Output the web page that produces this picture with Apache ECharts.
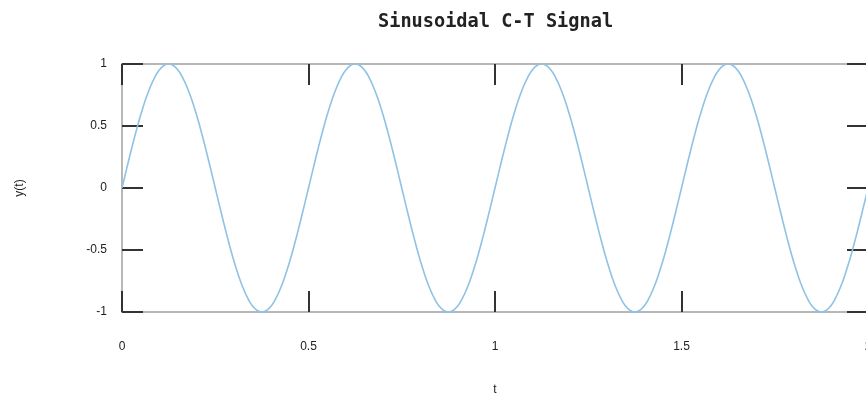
<!DOCTYPE html>
<html>
<head>
<meta charset="utf-8">
<script src="https://cdn.jsdelivr.net/npm/echarts@6/dist/echarts.min.js"></script>
<style>html,body{margin:0;padding:0;background:#fff;}#c{width:866px;height:397px;}</style>
</head>
<body>
<div id="c"></div>
<script>
var titleText = 'Sinusoidal C-T Signal';
var xName = 't';
var yName = 'y(t)';
var tValues = [
  0, 0.0125, 0.025, 0.0375, 0.05, 0.0625, 0.075, 0.0875,
  0.1, 0.1125, 0.125, 0.1375, 0.15, 0.1625, 0.175, 0.1875,
  0.2, 0.2125, 0.225, 0.2375, 0.25, 0.2625, 0.275, 0.2875,
  0.3, 0.3125, 0.325, 0.3375, 0.35, 0.3625, 0.375, 0.3875,
  0.4, 0.4125, 0.425, 0.4375, 0.45, 0.4625, 0.475, 0.4875,
  0.5, 0.5125, 0.525, 0.5375, 0.55, 0.5625, 0.575, 0.5875,
  0.6, 0.6125, 0.625, 0.6375, 0.65, 0.6625, 0.675, 0.6875,
  0.7, 0.7125, 0.725, 0.7375, 0.75, 0.7625, 0.775, 0.7875,
  0.8, 0.8125, 0.825, 0.8375, 0.85, 0.8625, 0.875, 0.8875,
  0.9, 0.9125, 0.925, 0.9375, 0.95, 0.9625, 0.975, 0.9875,
  1, 1.0125, 1.025, 1.0375, 1.05, 1.0625, 1.075, 1.0875,
  1.1, 1.1125, 1.125, 1.1375, 1.15, 1.1625, 1.175, 1.1875,
  1.2, 1.2125, 1.225, 1.2375, 1.25, 1.2625, 1.275, 1.2875,
  1.3, 1.3125, 1.325, 1.3375, 1.35, 1.3625, 1.375, 1.3875,
  1.4, 1.4125, 1.425, 1.4375, 1.45, 1.4625, 1.475, 1.4875,
  1.5, 1.5125, 1.525, 1.5375, 1.55, 1.5625, 1.575, 1.5875,
  1.6, 1.6125, 1.625, 1.6375, 1.65, 1.6625, 1.675, 1.6875,
  1.7, 1.7125, 1.725, 1.7375, 1.75, 1.7625, 1.775, 1.7875,
  1.8, 1.8125, 1.825, 1.8375, 1.85, 1.8625, 1.875, 1.8875,
  1.9, 1.9125, 1.925, 1.9375, 1.95, 1.9625, 1.975, 1.9875,
  2
];
var yValues = [
  0, 0.156, 0.309, 0.454, 0.588, 0.707, 0.809, 0.891, 0.951, 0.988,
  1, 0.988, 0.951, 0.891, 0.809, 0.707, 0.588, 0.454, 0.309, 0.156,
  0, -0.156, -0.309, -0.454, -0.588, -0.707, -0.809, -0.891, -0.951, -0.988,
  -1, -0.988, -0.951, -0.891, -0.809, -0.707, -0.588, -0.454, -0.309, -0.156,
  0, 0.156, 0.309, 0.454, 0.588, 0.707, 0.809, 0.891, 0.951, 0.988,
  1, 0.988, 0.951, 0.891, 0.809, 0.707, 0.588, 0.454, 0.309, 0.156,
  0, -0.156, -0.309, -0.454, -0.588, -0.707, -0.809, -0.891, -0.951, -0.988,
  -1, -0.988, -0.951, -0.891, -0.809, -0.707, -0.588, -0.454, -0.309, -0.156,
  0, 0.156, 0.309, 0.454, 0.588, 0.707, 0.809, 0.891, 0.951, 0.988,
  1, 0.988, 0.951, 0.891, 0.809, 0.707, 0.588, 0.454, 0.309, 0.156,
  0, -0.156, -0.309, -0.454, -0.588, -0.707, -0.809, -0.891, -0.951, -0.988,
  -1, -0.988, -0.951, -0.891, -0.809, -0.707, -0.588, -0.454, -0.309, -0.156,
  0, 0.156, 0.309, 0.454, 0.588, 0.707, 0.809, 0.891, 0.951, 0.988,
  1, 0.988, 0.951, 0.891, 0.809, 0.707, 0.588, 0.454, 0.309, 0.156,
  0, -0.156, -0.309, -0.454, -0.588, -0.707, -0.809, -0.891, -0.951, -0.988,
  -1, -0.988, -0.951, -0.891, -0.809, -0.707, -0.588, -0.454, -0.309, -0.156,
  0
];
var xTickLabels = ['0', '0.5', '1', '1.5', '2'];
var yTickLabels = ['-1', '-0.5', '0', '0.5', '1'];

var pts = tValues.map(function (t, i) { return [t, yValues[i]]; });

var axisLine = { show: true, onZero: false, lineStyle: { color: '#a0a0a0', width: 1.5 } };
var axisTick = { show: true, inside: true, length: 21, lineStyle: { color: '#333', width: 2 } };
var labelStyle = { color: '#222', fontSize: 12, fontFamily: 'Liberation Sans, Arial, sans-serif' };

function xLabel(v) {
  var idx = Math.round(v / 0.5);
  return xTickLabels[idx] !== undefined ? xTickLabels[idx] : '';
}
function yLabel(v) {
  var idx = Math.round((v + 1) / 0.5);
  return yTickLabels[idx] !== undefined ? yTickLabels[idx] : '';
}

var chart = echarts.init(document.getElementById('c'), null, { renderer: 'canvas' });
chart.setOption({
  animation: false,
  backgroundColor: '#fff',
  title: {
    text: titleText,
    left: 373,
    top: 8,
    textStyle: { fontFamily: 'DejaVu Sans Mono', fontWeight: 'bold', fontSize: 18.6, color: '#222' }
  },
  grid: { left: 122, top: 64, right: -2, bottom: 85, containLabel: false, outerBoundsMode: 'none' },
  xAxis: [
    {
      type: 'value', min: 0, max: 2, interval: 0.5, position: 'bottom',
      name: xName, nameLocation: 'middle', nameGap: 72,
      nameTextStyle: labelStyle,
      axisLine: axisLine, axisTick: axisTick,
      axisLabel: Object.assign({ margin: 29, formatter: xLabel }, labelStyle),
      splitLine: { show: false }
    },
    {
      type: 'value', min: 0, max: 2, interval: 0.5, position: 'top',
      axisLine: axisLine, axisTick: axisTick,
      axisLabel: { show: false }, splitLine: { show: false }
    }
  ],
  yAxis: [
    {
      type: 'value', min: -1, max: 1, interval: 0.5, position: 'left',
      name: yName, nameLocation: 'middle', nameGap: 96, nameRotate: 90,
      nameTextStyle: labelStyle,
      axisLine: axisLine, axisTick: axisTick,
      axisLabel: Object.assign({ margin: 15, formatter: yLabel }, labelStyle),
      splitLine: { show: false }
    },
    {
      type: 'value', min: -1, max: 1, interval: 0.5, position: 'right',
      axisLine: axisLine, axisTick: axisTick,
      axisLabel: { show: false }, splitLine: { show: false }
    }
  ],
  series: [{
    type: 'line',
    data: pts,
    smooth: true,
    showSymbol: false,
    clip: false,
    lineStyle: { color: '#8fc2e4', width: 1.6 }
  }]
});
</script>
</body>
</html>
